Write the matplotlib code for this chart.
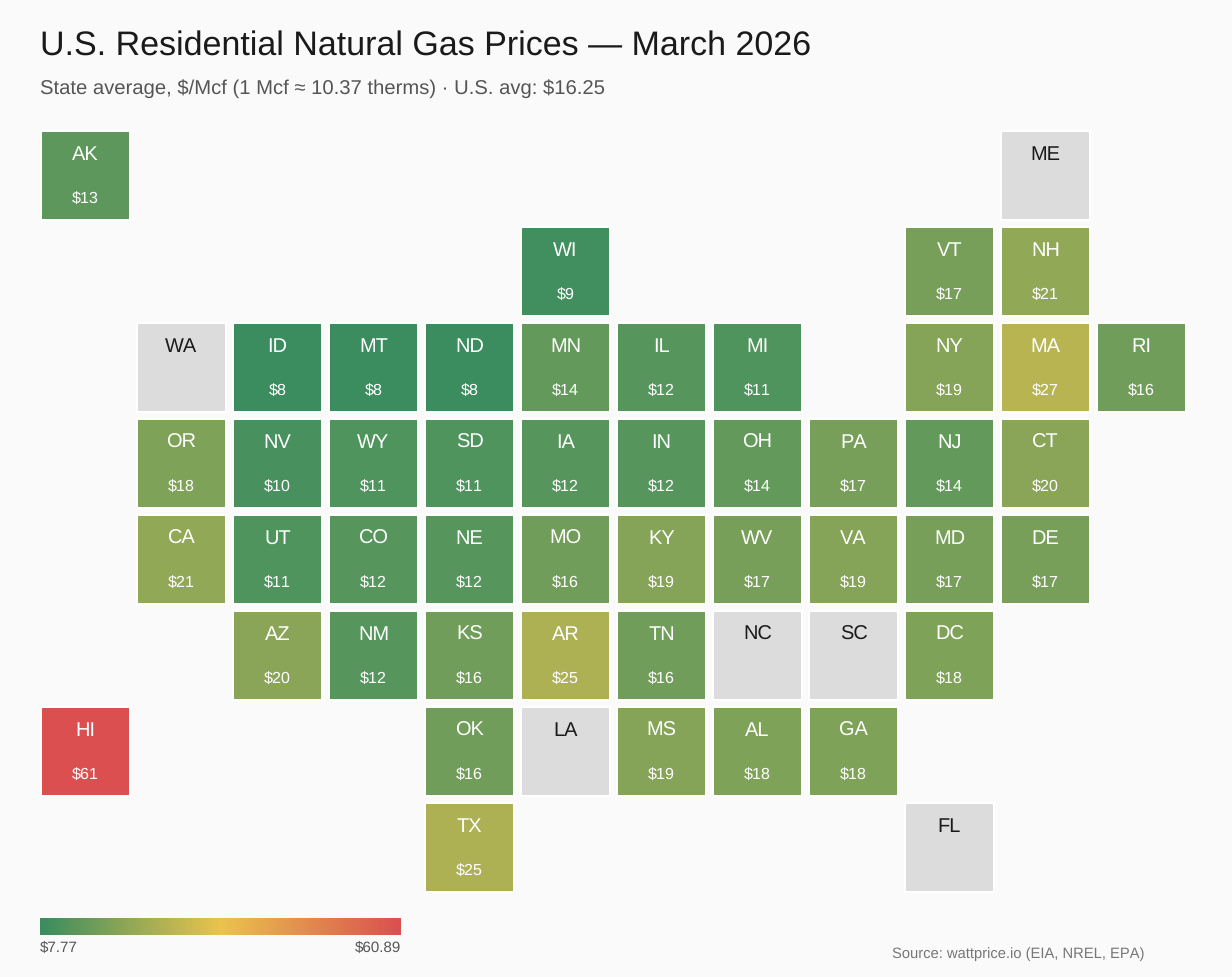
import numpy as np
import matplotlib
matplotlib.use("Agg")
import matplotlib.pyplot as plt
from matplotlib.colors import LinearSegmentedColormap, Normalize
from matplotlib.patches import Rectangle

plt.rcParams['font.family'] = ['Liberation Sans', 'DejaVu Sans']
plt.rcParams['text.hinting'] = 'no_hinting'
plt.rcParams['text.hinting_factor'] = 8
plt.rcParams['text.kerning_factor'] = 6
plt.rcParams['text.parse_math'] = False

W, H = 1232, 978
BG = '#fafafa'

states = ['AK', 'ME', 'WI', 'VT', 'NH',
          'WA', 'ID', 'MT', 'ND', 'MN', 'IL', 'MI', 'NY', 'MA', 'RI',
          'OR', 'NV', 'WY', 'SD', 'IA', 'IN', 'OH', 'PA', 'NJ', 'CT',
          'CA', 'UT', 'CO', 'NE', 'MO', 'KY', 'WV', 'VA', 'MD', 'DE',
          'AZ', 'NM', 'KS', 'AR', 'TN', 'NC', 'SC', 'DC',
          'HI', 'OK', 'LA', 'MS', 'AL', 'GA',
          'TX', 'FL']
grid_col = [0, 10, 5, 9, 10,
            1, 2, 3, 4, 5, 6, 7, 9, 10, 11,
            1, 2, 3, 4, 5, 6, 7, 8, 9, 10,
            1, 2, 3, 4, 5, 6, 7, 8, 9, 10,
            2, 3, 4, 5, 6, 7, 8, 9,
            0, 4, 5, 6, 7, 8,
            4, 9]
grid_row = [0, 0, 1, 1, 1,
            2, 2, 2, 2, 2, 2, 2, 2, 2, 2,
            3, 3, 3, 3, 3, 3, 3, 3, 3, 3,
            4, 4, 4, 4, 4, 4, 4, 4, 4, 4,
            5, 5, 5, 5, 5, 5, 5, 5,
            6, 6, 6, 6, 6, 6,
            7, 7]
# None = no price reported for that state
prices = [13, None, 9, 17, 21,
          None, 8, 8, 8, 14, 12, 11, 19, 27, 16,
          18, 10, 11, 11, 12, 12, 14, 17, 14, 20,
          21, 11, 12, 12, 16, 19, 17, 19, 17, 17,
          20, 12, 16, 25, 16, None, None, 18,
          61, 16, None, 19, 18, 18,
          25, None]
price_min = 7.77
price_max = 60.89

cmap = LinearSegmentedColormap.from_list('gas', ['#3a8c5f', '#eac44d', '#db4f50'])
norm = Normalize(price_min, price_max)


def fx(px):
    return px / W


def fy(px):
    return 1 - px / H


fig = plt.figure(figsize=(W / 100, H / 100), dpi=100, facecolor=BG)

# one data unit = one grid cell = 96 px
ax = fig.add_axes([0, 0, 1, 1])
ax.set_xlim(-41 / 96, (W - 41) / 96)
ax.set_ylim((H - 132) / 96, -132 / 96)
ax.axis('off')

tile = 89 / 96
for st, c, r, p in zip(states, grid_col, grid_row, prices):
    color = '#dcdcdc' if p is None else cmap(norm(p))
    ax.add_patch(Rectangle((c, r), tile, tile, facecolor=color, edgecolor='white', linewidth=1.44))
    cx = c + tile / 2
    ax.text(cx, r + 28 / 96, st, ha='center', va='baseline', fontsize=14.4,
            color='#1a1a1a' if p is None else 'white')
    if p is not None:
        ax.text(cx, r + 70.5 / 96, f'${p}', ha='center', va='baseline', fontsize=11.6, color='white')

fig.text(fx(40), fy(55), 'U.S. Residential Natural Gas Prices \u2014 March 2026',
         fontsize=24.5, color='#1a1a1a', va='baseline')
fig.text(fx(40), fy(94), 'State average, $/Mcf (1 Mcf \u2248 10.37 therms) \u00b7 U.S. avg: $16.25',
         fontsize=14.62, color='#555555', va='baseline')

# colour scale
cax = fig.add_axes([fx(40), fy(935.8), 361 / W, 17 / H])
cax.imshow(np.linspace(0, 1, 361).reshape(1, -1), cmap=cmap, aspect='auto')
cax.axis('off')
fig.text(fx(40), fy(952), f'${price_min:.2f}', fontsize=10.9, color='#555555', va='baseline')
fig.text(fx(401), fy(952), f'${price_max:.2f}', fontsize=10.9, color='#555555', va='baseline', ha='right')

fig.text(fx(892), fy(958), 'Source: wattprice.io (EIA, NREL, EPA)', fontsize=10.6, color='#777777', va='baseline')

fig.savefig('out.png', dpi=100, facecolor=BG)
